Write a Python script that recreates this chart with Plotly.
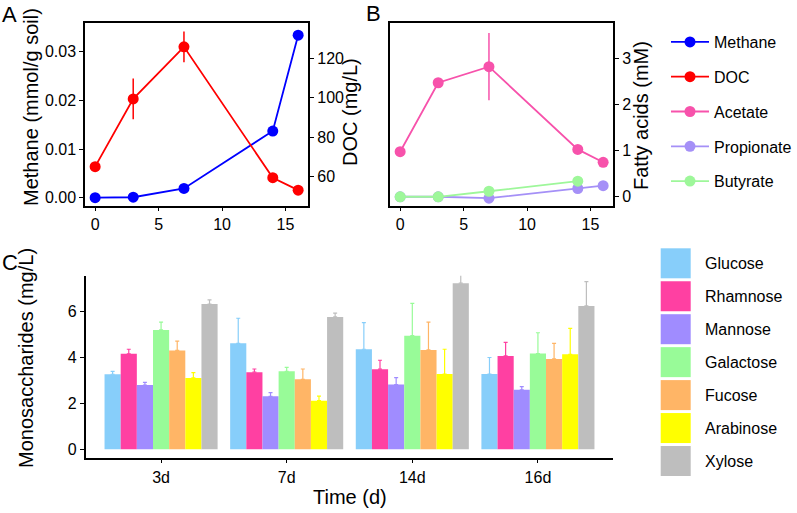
import plotly.graph_objects as go

W, H = 797, 513

# ---------------- data ----------------
days = [0, 3, 7, 14, 16]
methane = [0.0, 0.0001, 0.0019, 0.0137, 0.0334]
methane_err = [0.0, 0.0, 0.0002, 0.0005, 0.0005]
doc = [65.1, 99.5, 125.9, 59.5, 53.2]
doc_err = [1.0, 10.4, 7.8, 1.0, 1.0]

acetate = [0.98, 2.48, 2.83, 1.03, 0.75]
acetate_err = [0.03, 0.05, 0.73, 0.05, 0.03]
propionate = [0.0, 0.0, -0.03, 0.18, 0.24]
butyrate = [0.0, 0.0, 0.12, 0.34, None]
butyrate_err = [0.0, 0.0, 0.02, 0.07, None]

times = ["3d", "7d", "14d", "16d"]
sugars = ["Glucose", "Rhamnose", "Mannose", "Galactose", "Fucose", "Arabinose", "Xylose"]
glucose = [3.27, 4.62, 4.36, 3.28]
glucose_sd = [0.13, 1.09, 1.16, 0.72]
rhamnose = [4.16, 3.36, 3.49, 4.07]
rhamnose_sd = [0.20, 0.14, 0.39, 0.59]
mannose = [2.80, 2.31, 2.82, 2.59]
mannose_sd = [0.12, 0.16, 0.30, 0.14]
galactose = [5.20, 3.40, 4.95, 4.17]
galactose_sd = [0.34, 0.17, 1.41, 0.91]
fucose = [4.31, 3.05, 4.33, 3.94]
fucose_sd = [0.40, 0.45, 1.21, 0.68]
arabinose = [3.11, 2.12, 3.28, 4.14]
arabinose_sd = [0.23, 0.20, 1.08, 1.13]
xylose = [6.33, 5.77, 7.24, 6.25]
xylose_sd = [0.18, 0.16, 0.50, 1.06]

sugar_values = [glucose, rhamnose, mannose, galactose, fucose, arabinose, xylose]
sugar_sds = [glucose_sd, rhamnose_sd, mannose_sd, galactose_sd, fucose_sd, arabinose_sd, xylose_sd]
sugar_colors = ["#87CEFA", "#FF40A2", "#A08CFF", "#98FB98", "#FFB566", "#FFFF00", "#BEBEBE"]

FONT = "Liberation Sans, Arial, Helvetica, sans-serif"

def px(x):
    return x / W

def py(y):
    return 1 - y / H

fig = go.Figure()

# ---------------- panel A ----------------
fig.add_trace(go.Scatter(
    x=days, y=methane, name="Methane", mode="lines+markers",
    line=dict(color="#0000FF", width=1.8), marker=dict(size=11, color="#0000FF"),
    error_y=dict(type="data", array=methane_err, color="#0000FF", thickness=1.5, width=0),
    xaxis="x", yaxis="y", legendgroup="g1"))
fig.add_trace(go.Scatter(
    x=days, y=doc, name="DOC", mode="lines+markers",
    line=dict(color="#FF0000", width=1.8), marker=dict(size=11, color="#FF0000"),
    error_y=dict(type="data", array=doc_err, color="#FF0000", thickness=1.5, width=0),
    xaxis="x", yaxis="y2", legendgroup="g2"))

# ---------------- panel B ----------------
fig.add_trace(go.Scatter(
    x=days, y=acetate, name="Acetate", mode="lines+markers",
    line=dict(color="#F752AB", width=1.8), marker=dict(size=11, color="#F752AB"),
    error_y=dict(type="data", array=acetate_err, color="#F752AB", thickness=1.5, width=0),
    xaxis="x2", yaxis="y3", legendgroup="g3"))
fig.add_trace(go.Scatter(
    x=days, y=propionate, name="Propionate", mode="lines+markers",
    line=dict(color="#A590F7", width=1.8), marker=dict(size=11, color="#A590F7"),
    xaxis="x2", yaxis="y3", legendgroup="g4"))
fig.add_trace(go.Scatter(
    x=days, y=butyrate, name="Butyrate", mode="lines+markers",
    line=dict(color="#9EF79A", width=1.8), marker=dict(size=11, color="#9EF79A"),
    error_y=dict(type="data", array=butyrate_err, color="#9EF79A", thickness=1.5, width=0),
    xaxis="x2", yaxis="y3", legendgroup="g5"))

# ---------------- panel C ----------------
for name, vals, sds, col in zip(sugars, sugar_values, sugar_sds, sugar_colors):
    fig.add_trace(go.Bar(
        x=times, y=vals, name=name, marker=dict(color=col, line=dict(width=0)),
        error_y=dict(type="data", array=sds, arrayminus=[0] * len(sds), symmetric=False,
                     color=col, thickness=1.2, width=2),
        xaxis="x3", yaxis="y4", showlegend=False))

axis_common = dict(showgrid=False, zeroline=False, ticks="outside", ticklen=4, tickwidth=1,
                   tickcolor="black", linecolor="black", linewidth=1.5,
                   tickfont=dict(size=16, color="black", family=FONT))

yA = [py(205.5), py(23)]
fig.update_layout(
    width=W, height=H, margin=dict(l=0, r=0, t=0, b=0, autoexpand=False),
    paper_bgcolor="white", plot_bgcolor="white",
    font=dict(family=FONT, color="black"),
    barmode="group", bargap=0.1, bargroupgap=0,
    xaxis=dict(domain=[px(85), px(308.3)], range=[-0.8, 16.8], tickvals=[0, 5, 10, 15],
               anchor="y", mirror=True, **axis_common),
    yaxis=dict(domain=yA, range=[-0.0016, 0.0359], tickvals=[0, 0.01, 0.02, 0.03],
               ticktext=["0.00", "0.01", "0.02", "0.03"], anchor="x", mirror=True, **axis_common),
    yaxis2=dict(range=[45.4, 138.0], tickvals=[60, 80, 100, 120], overlaying="y", side="right",
                anchor="x", **axis_common),
    xaxis2=dict(domain=[px(390), px(613.3)], range=[-0.8, 16.8], tickvals=[0, 5, 10, 15],
                anchor="y3", mirror=True, **axis_common),
    yaxis3=dict(domain=yA, range=[-0.19, 3.78], tickvals=[0, 1, 2, 3], side="right",
                anchor="x2", mirror=True, **axis_common),
    xaxis3=dict(domain=[px(85.7), px(613.3)], type="category", range=[-0.6, 3.6],
                anchor="y4", **axis_common),
    yaxis4=dict(domain=[py(457.7), py(275.7)], range=[-0.366, 7.565], tickvals=[0, 2, 4, 6],
                anchor="x3", **axis_common),
    showlegend=True,
    legend=dict(x=px(666), y=py(25), xanchor="left", yanchor="top",
                font=dict(size=16, color="black", family=FONT),
                itemwidth=38, tracegroupgap=11, bgcolor="rgba(0,0,0,0)"),
)

# axis titles and panel letters
def ann(text, x, y, size=20, angle=0, xanchor="center"):
    fig.add_annotation(text=text, x=px(x), y=py(y), xref="paper", yref="paper",
                       showarrow=False, textangle=angle, xanchor=xanchor, yanchor="middle",
                       font=dict(size=size, color="black", family=FONT))

ann("Methane (mmol/g soil)", 31, 107, angle=-90)
ann("DOC (mg/L)", 350, 112, angle=-90)
ann("Fatty acids (mM)", 641, 116, angle=-90)
ann("Monosaccharides (mg/L)", 26, 358, angle=-90)
ann("Time (d)", 350, 497)
ann("A", 0, 14, size=22, xanchor="left")
ann("B", 364, 13, size=22, xanchor="left")
ann("C", 0, 262, size=22, xanchor="left")

# legend for panel C (swatches)
for i, (name, col) in enumerate(zip(sugars, sugar_colors)):
    top = 248.3 + i * 32.95
    fig.add_shape(type="rect", xref="paper", yref="paper",
                  x0=px(660.7), x1=px(690.7), y0=py(top + 30), y1=py(top),
                  fillcolor=col, line=dict(width=0))
    ann(name, 703, top + 15, size=16, xanchor="left")

fig.write_html("out.html", config={"displayModeBar": False},
               post_script="document.body.style.margin='0';document.body.style.overflow='hidden';")
